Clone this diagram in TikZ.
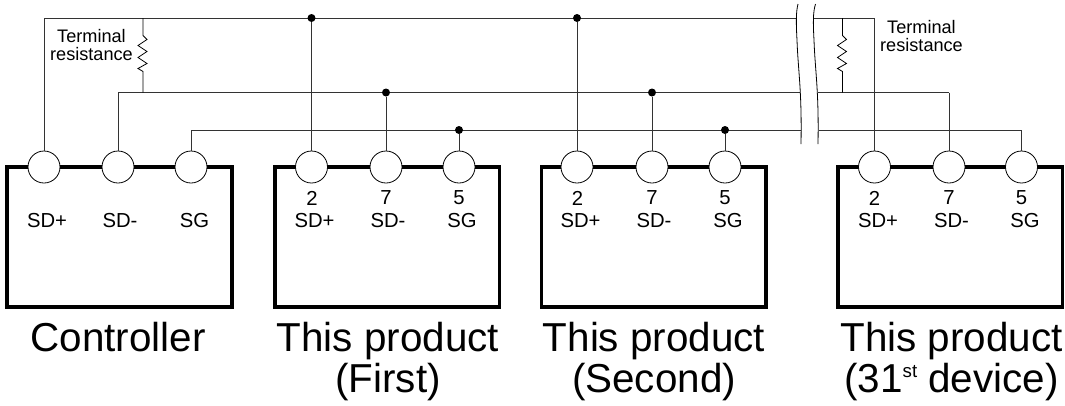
\documentclass[tikz,border=0pt]{standalone}
\usepackage{fontspec}
\setmainfont{Liberation Sans}
\tikzset{
  x=0.75pt,y=-0.75pt,
  devbox/.style={draw=black,line width=2.8pt,fill=white,minimum width=168.3pt,minimum height=104.8pt,inner sep=0pt,outer sep=0pt,anchor=north west},
  port/.style={circle,draw=black,line width=0.6pt,fill=white,minimum size=24pt,inner sep=0pt,outer sep=0pt},
  wire/.style={draw=black!80,line width=0.65pt},
  dotj/.style={circle,fill=black,minimum size=6pt,inner sep=0pt,outer sep=0pt},
  res/.style={draw=black,line width=0.6pt},
  brk/.style={draw=black,line width=0.6pt},
  sm/.style={font=\fontsize{13.6pt}{13.4pt}\selectfont,inner sep=0pt,align=center},
  sig/.style={font=\fontsize{15.2pt}{17pt}\selectfont,inner sep=0pt},
  big/.style={font=\fontsize{30.3pt}{30.8pt}\selectfont,inner sep=0pt,align=center,anchor=north},
}
\newcommand{\zigres}[1]{%
  \draw[res] (#1t) -- ++(0,17.5) -- ++(4,4) -- ++(-9,6) -- ++(9,6) -- ++(-9,6) -- ++(9,6) -- ++(-9,5) -- ++(5,3) -- (#1b);}
\newcommand{\supst}{\raisebox{11pt}{\fontsize{14pt}{14pt}\selectfont st}}
\begin{document}
\begin{tikzpicture}
\useasboundingbox (0,0) rectangle (1065,405);
% device boxes
\node[devbox] (b1) at (7.3,167) {};
\node[devbox] (b2) at (275,167) {};
\node[devbox] (b3) at (541.5,167) {};
\node[devbox] (b4) at (838,167) {};
% junction and corner points
\coordinate (tL) at (44,18);
\coordinate (tA) at (796,18);
\coordinate (tB) at (814,18);
\coordinate (tR) at (874.5,18);
\coordinate (mL) at (118,92.5);
\coordinate (mA) at (800,92.5);
\coordinate (mB) at (818,92.5);
\coordinate (mR) at (949,92.5);
\coordinate (lL) at (191,130);
\coordinate (lA) at (801,130);
\coordinate (lB) at (819,130);
\coordinate (lR) at (1021.5,130);
\coordinate (r1t) at (143,18);
\coordinate (r1b) at (143,92.5);
\coordinate (r2t) at (842.5,18);
\coordinate (r2b) at (842.5,92.5);
% wires
\draw[wire] (tL) -- (tA);
\draw[wire] (tB) -- (tR);
\draw[wire] (mL) -- (mA);
\draw[wire] (mB) -- (mR);
\draw[wire] (lL) -- (lA);
\draw[wire] (lB) -- (lR);
\node[dotj] (d1) at (311.5,18) {};
\node[dotj] (d2) at (577,18) {};
\node[dotj] (d3) at (386,92.5) {};
\node[dotj] (d4) at (652,92.5) {};
\node[dotj] (d5) at (459,130) {};
\node[dotj] (d6) at (725,130) {};
% ports
\node[port] (c1) at (44,167) {};
\node[port] (c2) at (118,167) {};
\node[port] (c3) at (191,167) {};
\node[port] (f1) at (311.5,167) {};
\node[port] (f2) at (386,167) {};
\node[port] (f3) at (459,167) {};
\node[port] (s1) at (577,167) {};
\node[port] (s2) at (652,167) {};
\node[port] (s3) at (725,167) {};
\node[port] (n1) at (874.5,167) {};
\node[port] (n2) at (949,167) {};
\node[port] (n3) at (1021.5,167) {};
% drops
\draw[wire] (tL) -- (c1.north);
\draw[wire] (mL) -- (c2.north);
\draw[wire] (lL) -- (c3.north);
\draw[wire] (d1) -- (f1.north);
\draw[wire] (d3) -- (f2.north);
\draw[wire] (d5) -- (f3.north);
\draw[wire] (d2) -- (s1.north);
\draw[wire] (d4) -- (s2.north);
\draw[wire] (d6) -- (s3.north);
\draw[wire] (tR) -- (n1.north);
\draw[wire] (mR) -- (n2.north);
\draw[wire] (lR) -- (n3.north);
% resistors
\zigres{r1}
\zigres{r2}
% break marks
\draw[brk] (798,4) .. controls (796,12) and (796,22) .. (797,40) .. controls (798,70) and (802,90) .. (801,144);
\draw[brk] (815.5,4) .. controls (813,12) and (813,22) .. (814,40) .. controls (815,70) and (819,90) .. (818,144);
% labels
\node[sm] (tr1) at (91.5,45) {Terminal\\resistance};
\node[sm] (tr2) at (921.5,36) {Terminal\\resistance};
\foreach \n/\x/\t in {a/47/SD+,b/120/SD-,c/194.5/SG}{\node[sig] (l\n) at (\x,220.5) {\t};}
\foreach \n/\x/\t in {d/314.5/SD+,e/388/SD-,f/462/SG,g/580.5/SD+,h/654/SD-,i/728/SG,j/878/SD+,k/951.5/SD-,m/1025/SG}{\node[sig] (l\n) at (\x,220.5) {\t};}
\foreach \n/\x/\t in {a/312/2,b/386/7,c/459/5,d/577.5/2,e/652/7,f/725/5,g/874.5/2,h/949/7,i/1021.5/5}{\node[sig] (k\n) at (\x,198) {\t};}
\node[big] (nc) at (118,322) {Controller};
\node[big] (nf) at (388,322) {This product\\(First)};
\node[big] (ns) at (654,322) {This product\\(Second)};
\node[big] (nl) at (951.5,322) {This product\\(31\supst{} device)};
\end{tikzpicture}
\end{document}
